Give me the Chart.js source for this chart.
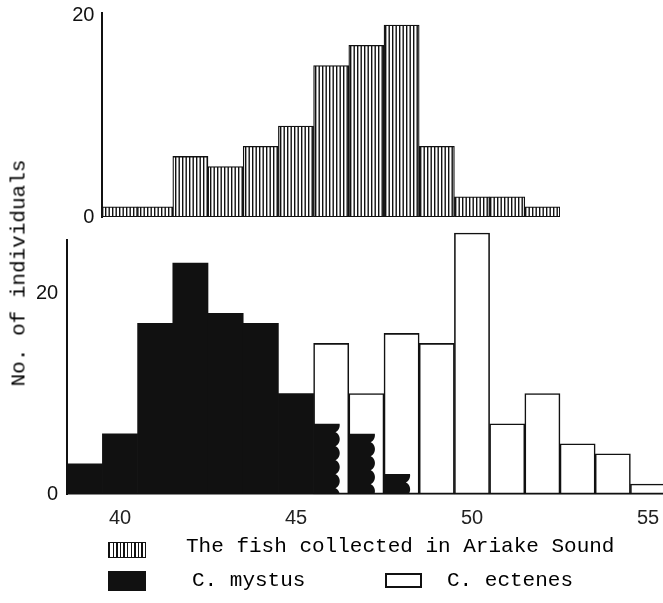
<!DOCTYPE html>
<html>
<head>
<meta charset="utf-8">
<script src="https://cdn.jsdelivr.net/npm/chart.js@4.4.0/dist/chart.umd.min.js"></script>
<style>
  html, body { margin: 0; padding: 0; background: #fff; }
  #wrap { position: relative; width: 663px; height: 603px; overflow: hidden; background: #fff; }
  canvas { position: absolute; left: 0; }
  .txt { position: absolute; font-family: "Liberation Mono", "DejaVu Sans Mono", monospace; font-size: 21px; color: #000; white-space: nowrap; line-height: 1; }
  .sw { position: absolute; box-sizing: border-box; }
</style>
</head>
<body>
<div id="wrap">
  <canvas id="top" width="663" height="260" style="top:-17px"></canvas>
  <canvas id="bottom" width="700" height="330" style="top:210px"></canvas>

  <div class="txt" style="left:19px; top:273px; transform: translate(-50%,-50%) rotate(-90deg);">No. of individuals</div>

  <div class="sw" style="left:108px; top:542px; width:38px; height:16px; border:1.5px solid #111; background: repeating-linear-gradient(90deg, #111 0 1.4px, #fff 1.4px 3.6px);"></div>
  <div class="txt" style="left:186px; top:536px;">The fish collected in Ariake Sound</div>

  <div class="sw" style="left:108px; top:571px; width:38px; height:20px; background:#111;"></div>
  <div class="txt" style="left:192px; top:570px;">C. mystus</div>

  <div class="sw" style="left:385px; top:573px; width:37px; height:15px; border:2px solid #111; background:#fff;"></div>
  <div class="txt" style="left:447px; top:570px;">C. ectenes</div>
</div>

<script>
// top panel: fish collected in Ariake Sound
var topLengths = ['40','41','42','43','44','45','46','47','48','49','50','51','52'];
var ariake = [1, 1, 6, 5, 7, 9, 15, 17, 19, 7, 2, 2, 1];

// bottom panel: the two species
var lengths = ['39','40','41','42','43','44','45','46','47','48','49','50','51','52','53','54','55'];
var mystus  = [3, 6, 17, 23, 18, 17, 10, 7, 6, 2, 0, 0, 0, 0, 0, 0, 0];
var ectenes = [0, 0, 0, 0, 0, 0, 0, 15, 10, 16, 15, 26, 7, 10, 5, 4, 1];

var yTicks = [0, 20];

var ink = '#111';
var tickFont = { family: 'Liberation Sans', size: 20 };

// vertical stripe pattern
var tile = document.createElement('canvas');
tile.width = 7; tile.height = 8;
var tc = tile.getContext('2d');
tc.fillStyle = '#fff'; tc.fillRect(0, 0, 7, 8);
tc.fillStyle = ink;
tc.fillRect(0, 0, 1.4, 8);
tc.fillRect(3.5, 0, 1.4, 8);
var stripes = tc.createPattern(tile, 'repeat');

function keepTicks(scale) {
  scale.ticks = yTicks.map(function(v){ return { value: v }; });
}

new Chart(document.getElementById('top'), {
  type: 'bar',
  data: {
    labels: topLengths,
    datasets: [{
      data: ariake,
      backgroundColor: stripes,
      borderColor: ink,
      borderWidth: 1.3,
      borderSkipped: false,
      barPercentage: 1,
      categoryPercentage: 1
    }]
  },
  options: {
    responsive: false,
    animation: false,
    layout: { padding: { top: 30, right: 103, bottom: 26, left: 0 } },
    plugins: { legend: { display: false }, tooltip: { enabled: false } },
    scales: {
      x: { display: false },
      y: {
        min: 0, max: 20.2,
        afterFit: function(s){ s.width = 102.4; },
        afterBuildTicks: keepTicks,
        ticks: { font: tickFont, color: ink, padding: 8 },
        grid: { display: false, drawTicks: false },
        border: { display: true, color: ink, width: 2 }
      }
    }
  }
});

// black bars that overlap a white bar get a scalloped right edge
var waveEdge = {
  id: 'waveEdge',
  afterDatasetsDraw: function(chart) {
    var meta = chart.getDatasetMeta(0);
    var ctx = chart.ctx;
    meta.data.forEach(function(bar, i) {
      if (!(ectenes[i] > 0 && mystus[i] > 0)) return;
      var p = bar.getProps(['x', 'y', 'base', 'width'], true);
      var left = p.x - p.width / 2;
      var right = left + p.width * 0.6;
      var amp = 5, lambda = 14;
      ctx.save();
      ctx.fillStyle = ink;
      ctx.beginPath();
      ctx.moveTo(left, p.base);
      ctx.lineTo(left, p.y);
      for (var t = 0; t <= p.base - p.y; t += 0.5) {
        var s = Math.abs(Math.sin(Math.PI * (t + lambda * 0.4) / lambda));
        ctx.lineTo(right + amp * Math.sqrt(s), p.y + t);
      }
      ctx.lineTo(left, p.base);
      ctx.closePath();
      ctx.fill();
      ctx.restore();
    });
  }
};

new Chart(document.getElementById('bottom'), {
  type: 'bar',
  data: {
    labels: lengths,
    datasets: [{
      label: 'C. mystus',
      data: mystus,
      backgroundColor: function(c){ return ectenes[c.dataIndex] > 0 ? 'rgba(0,0,0,0)' : ink; },
      borderWidth: 0,
      barPercentage: 1,
      categoryPercentage: 1
    }, {
      label: 'C. ectenes',
      data: ectenes,
      backgroundColor: '#fff',
      borderColor: ink,
      borderWidth: 1.6,
      borderSkipped: false,
      barPercentage: 1,
      categoryPercentage: 1,
      clip: false
    }]
  },
  options: {
    responsive: false,
    animation: false,
    layout: { padding: { top: 30, right: 34.4, bottom: 0, left: 0 } },
    datasets: { bar: { grouped: false } },
    plugins: { legend: { display: false }, tooltip: { enabled: false } },
    scales: {
      x: {
        afterFit: function(s){ s.height = 46; },
        ticks: {
          autoSkip: false, maxRotation: 0, font: tickFont, color: '#222', padding: 12,
          callback: function(v){ var l = this.getLabelForValue(v); return (+l) % 5 === 0 ? l : ''; }
        },
        grid: { display: false, drawTicks: false },
        border: { display: true, color: ink, width: 1.5 }
      },
      y: {
        min: 0, max: 25.3,
        afterFit: function(s){ s.width = 67.2; },
        afterBuildTicks: keepTicks,
        ticks: { font: tickFont, color: ink, padding: 9 },
        grid: { display: false, drawTicks: false },
        border: { display: true, color: ink, width: 2 }
      }
    }
  },
  plugins: [waveEdge]
});
</script>
</body>
</html>
